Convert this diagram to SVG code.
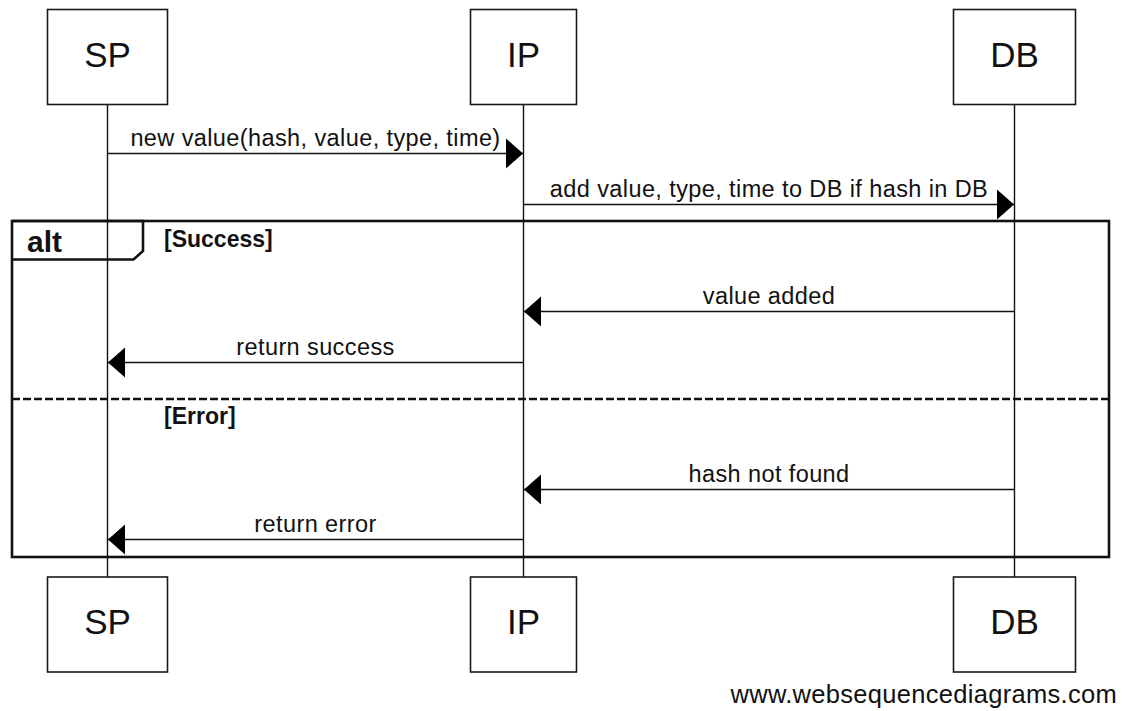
<svg xmlns="http://www.w3.org/2000/svg" width="1133" height="711" viewBox="0 0 1133 711">
  <style>
    .box { fill: #fff; stroke: #1a1a1a; stroke-width: 1.6; }
    .life { stroke: #111; stroke-width: 1.4; }
    .plabel { font-family: "Liberation Sans", Arial, sans-serif; font-size: 35px; fill: #111; text-anchor: middle; }
    .msg { stroke: #111; stroke-width: 1.6; fill: none; marker-end: url(#head); }
    .mlabel { font-family: "Liberation Sans", Arial, sans-serif; font-size: 23.5px; letter-spacing: 0.4px; fill: #111; text-anchor: middle; }
    .frame { fill: none; stroke: #111; stroke-width: 2.6; }
    .sep { stroke: #111; stroke-width: 2.6; stroke-dasharray: 8 3; }
    .kw { font-family: "Liberation Sans", Arial, sans-serif; font-weight: bold; font-size: 30px; fill: #111; }
    .cond { font-family: "Liberation Sans", Arial, sans-serif; font-weight: bold; font-size: 23px; fill: #111; }
    .mark { font-family: "Liberation Sans", Arial, sans-serif; font-size: 25.5px; letter-spacing: 0.3px; fill: #111; text-anchor: end; }
  </style>
  <defs>
    <marker id="head" markerUnits="userSpaceOnUse" markerWidth="18" markerHeight="32" viewBox="0 0 18 32" refX="17" refY="16" orient="auto">
      <path d="M0,1 L17,16 L0,31 Z" fill="#000"/>
    </marker>
  </defs>

  <rect width="1133" height="711" fill="#fff"/>

  <!-- lifelines -->
  <g id="lifelines">
    <line class="life" x1="107.5" y1="104" x2="107.5" y2="577"/>
    <line class="life" x1="523.5" y1="104" x2="523.5" y2="577"/>
    <line class="life" x1="1014.5" y1="104" x2="1014.5" y2="577"/>
  </g>

  <!-- alt fragment -->
  <g id="alt">
    <rect class="frame" x="12" y="221" width="1097" height="336"/>
    <path class="frame" d="M12,221 H143 V251 L133.5,259.5 H12" stroke-width="2.2"/>
    <text class="kw" x="27" y="252">alt</text>
    <text class="cond" x="164" y="247">[Success]</text>
    <line class="sep" x1="12" y1="399" x2="1109" y2="399"/>
    <text class="cond" x="164" y="424">[Error]</text>
  </g>

  <!-- participants -->
  <g id="SP">
    <rect class="box" x="47.5" y="9.5" width="120" height="95"/>
    <text class="plabel" x="107.5" y="66.5">SP</text>
  </g>
  <g id="IP">
    <rect class="box" x="470.5" y="9.5" width="106" height="95"/>
    <text class="plabel" x="523.5" y="66.5">IP</text>
  </g>
  <g id="DB">
    <rect class="box" x="953.5" y="9.5" width="122" height="95"/>
    <text class="plabel" x="1014.5" y="66.5">DB</text>
  </g>
  <g id="SP-bottom">
    <rect class="box" x="47.5" y="577" width="120" height="95"/>
    <text class="plabel" x="107.5" y="634">SP</text>
  </g>
  <g id="IP-bottom">
    <rect class="box" x="470.5" y="577" width="106" height="95"/>
    <text class="plabel" x="523.5" y="634">IP</text>
  </g>
  <g id="DB-bottom">
    <rect class="box" x="953.5" y="577" width="122" height="95"/>
    <text class="plabel" x="1014.5" y="634">DB</text>
  </g>

  <!-- messages -->
  <g id="connectors">
    <line class="msg" x1="107.5" y1="153.5" x2="523" y2="153.5"/>
    <text class="mlabel" x="315.5" y="146">new value(hash, value, type, time)</text>

    <line class="msg" x1="523.5" y1="204.5" x2="1014" y2="204.5"/>
    <text class="mlabel" x="769" y="197">add value, type, time to DB if hash in DB</text>

    <line class="msg" x1="1014.5" y1="311.5" x2="524" y2="311.5"/>
    <text class="mlabel" x="769" y="304">value added</text>

    <line class="msg" x1="523.5" y1="362.5" x2="108" y2="362.5"/>
    <text class="mlabel" x="315.5" y="355">return success</text>

    <line class="msg" x1="1014.5" y1="489.5" x2="524" y2="489.5"/>
    <text class="mlabel" x="769" y="482">hash not found</text>

    <line class="msg" x1="523.5" y1="539.5" x2="108" y2="539.5"/>
    <text class="mlabel" x="315.5" y="532">return error</text>
  </g>

  <text class="mark" x="1117" y="703">www.websequencediagrams.com</text>
</svg>
